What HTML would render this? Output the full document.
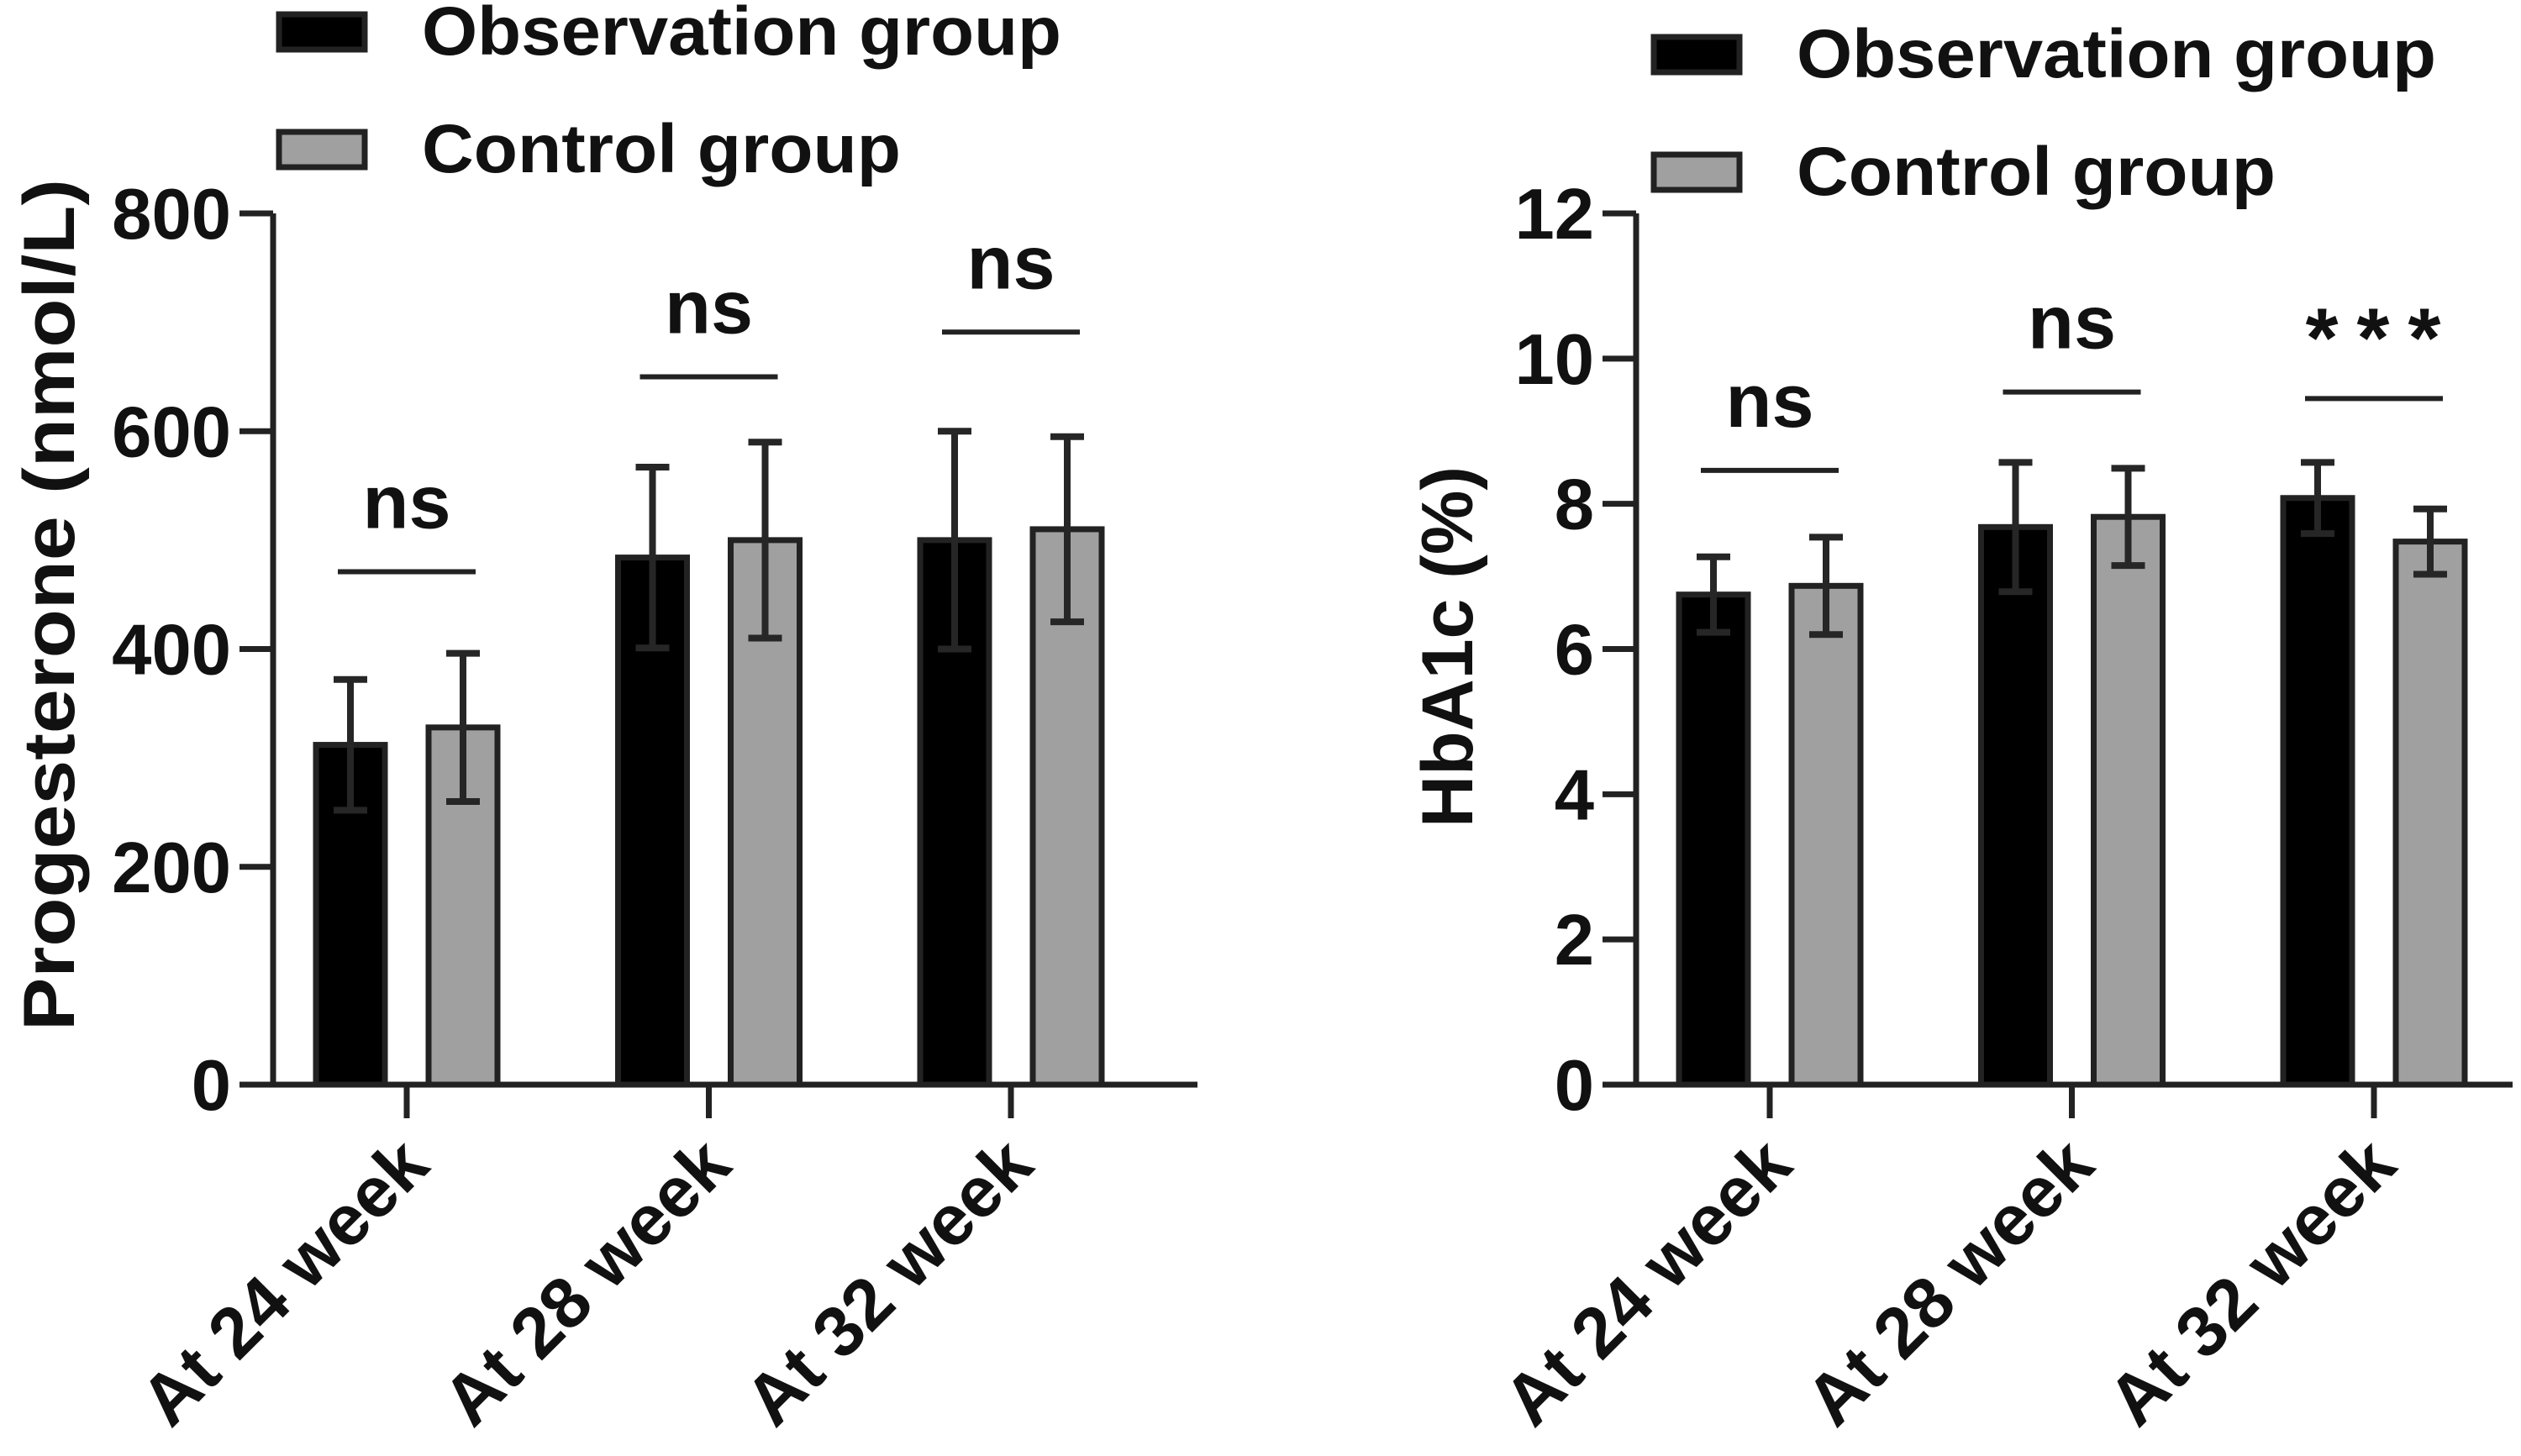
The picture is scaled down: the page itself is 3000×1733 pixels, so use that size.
<!DOCTYPE html>
<html><head><meta charset="utf-8"><style>html,body{margin:0;padding:0;background:#fff}svg{display:block}</style></head>
<body>
<svg id="svg" xmlns="http://www.w3.org/2000/svg" width="3000" height="1733" viewBox="0 0 3000 1733" font-family="Liberation Sans, Arial, sans-serif" font-weight="bold"></svg>
<script>
const categories = ["At 24 week", "At 28 week", "At 32 week"];
const progObs = [312, 484, 500];
const progObsSD = [60, 83, 100];
const progCtrl = [328, 500, 510];
const progCtrlSD = [68, 90, 85];
const progTicks = [0, 200, 400, 600, 800];
const progSig = ["ns", "ns", "ns"];
const progSigY = [471, 650, 691];
const hbObs = [6.75, 7.68, 8.08];
const hbObsSD = [0.52, 0.89, 0.49];
const hbCtrl = [6.87, 7.82, 7.48];
const hbCtrlSD = [0.67, 0.67, 0.45];
const hbTicks = [0, 2, 4, 6, 8, 10, 12];
const hbSig = ["ns", "ns", "***"];
const hbSigY = [8.46, 9.54, 9.45];

const NS = "http://www.w3.org/2000/svg";
const svg = document.getElementById('svg');
function mk(tag, attrs, parent) {
  const e = document.createElementNS(NS, tag);
  for (const k in attrs) e.setAttribute(k, attrs[k]);
  (parent || svg).appendChild(e);
  return e;
}

function drawPanel(cfg) {
  const g = mk('g', {});
  
  
  const y = v => cfg.y0 - (v - cfg.min) / (cfg.max - cfg.min) * (cfg.y0 - cfg.yTop);
  const cx = i => cfg.cat0 + i * cfg.catStep;
  for (let i = 0; i < categories.length; i++) {
    const series = [[cfg.obs, cfg.obsSD, '#000', 'obs'], [cfg.ctrl, cfg.ctrlSD, '#a0a0a0', 'ctrl']];
    series.forEach((s, j) => {
      const bx = cx(i) + (j === 0 ? -cfg.off - cfg.bw / 2 : cfg.off - cfg.bw / 2);
      const v = s[0][i], sd = s[1][i];
      const r = mk('rect', {x: bx, y: y(v), width: cfg.bw, height: cfg.y0 - y(v), fill: s[2], stroke: '#222', 'stroke-width': 7}, g);
      
      
      const mx = bx + cfg.bw / 2;
      const eb = mk('path', {d: `M${mx},${y(v - sd)}V${y(v + sd)}M${mx - 20},${y(v + sd)}H${mx + 20}M${mx - 20},${y(v - sd)}H${mx + 20}`, stroke: '#262626', 'stroke-width': 8, fill: 'none'}, g);
      
      
    });
    const sy = y(cfg.sigY[i]);
    const sl = mk('line', {x1: cx(i) - 82, x2: cx(i) + 82, y1: sy, y2: sy, stroke: '#222', 'stroke-width': 6}, g);
    
    
    const isStar = cfg.sig[i] === '***';
    const st = mk('text', {x: cx(i) + (isStar ? 10 : 0), y: sy - (isStar ? 38 : 52), 'text-anchor': 'middle', 'font-size': isStar ? 100 : 90, 'letter-spacing': isStar ? 22 : 0, fill: '#111'}, g);
    st.textContent = cfg.sig[i];
    
    
    const ct = mk('line', {x1: cx(i), x2: cx(i), y1: cfg.y0, y2: cfg.y0 + 40, stroke: '#222', 'stroke-width': 7}, g);
    
    
    const tl = mk('text', {x: 0, y: 0, 'text-anchor': 'end', 'font-size': 85, fill: '#111', transform: `translate(${cx(i) + 30},${cfg.y0 + 100}) rotate(-45)`}, g);
    tl.textContent = categories[i];
    
    
  }
  const ya = mk('line', {x1: cfg.ax, x2: cfg.ax, y1: cfg.yTop, y2: cfg.y0, stroke: '#222', 'stroke-width': 7}, g);
  
  
  const xa = mk('line', {x1: cfg.ax - 40, x2: cfg.xEnd, y1: cfg.y0, y2: cfg.y0, stroke: '#222', 'stroke-width': 7}, g);
  
  
  cfg.ticks.forEach(t => {
    const tk = mk('line', {x1: cfg.ax - 40, x2: cfg.ax, y1: y(t), y2: y(t), stroke: '#222', 'stroke-width': 7}, g);
    
    
    const tt = mk('text', {x: cfg.ax - 50, y: y(t) + 30, 'text-anchor': 'end', 'font-size': 85, fill: '#111'}, g);
    tt.textContent = t;
    
    
  });
  const title = mk('text', {x: 0, y: 0, 'text-anchor': 'middle', 'font-size': 86, fill: '#111', textLength: cfg.titleLen, lengthAdjust: 'spacingAndGlyphs', transform: `translate(${cfg.titleX},${cfg.titleY}) rotate(-90)`}, g);
  title.textContent = cfg.title;
  
  
  [['Observation group', '#000', cfg.legY, 761], ['Control group', '#a0a0a0', cfg.legY + 140, 570]].forEach((L, k) => {
    const sw = mk('rect', {x: cfg.legX, y: L[2], width: 102, height: 42, fill: L[1], stroke: '#222', 'stroke-width': 7}, g);
    
    
    const lt = mk('text', {x: cfg.legX + 170, y: L[2] + 48, 'font-size': 82, fill: '#111', textLength: L[3], lengthAdjust: 'spacingAndGlyphs'}, g);
    lt.textContent = L[0];
    
    
  });
}

drawPanel({name: 'progesterone-panel', obs: progObs, obsSD: progObsSD, ctrl: progCtrl, ctrlSD: progCtrlSD,
  ticks: progTicks, sig: progSig, sigY: progSigY, min: 0, max: 800, y0: 1291, yTop: 254, ax: 325, xEnd: 1425,
  cat0: 484, catStep: 359.5, off: 67, bw: 82, title: 'Progesterone (nmol/L)', titleX: 88, titleY: 720, titleLen: 1014,
  legX: 332, legY: 17});
drawPanel({name: 'hba1c-panel', obs: hbObs, obsSD: hbObsSD, ctrl: hbCtrl, ctrlSD: hbCtrlSD,
  ticks: hbTicks, sig: hbSig, sigY: hbSigY, min: 0, max: 12, y0: 1291, yTop: 254, ax: 1947, xEnd: 2990,
  cat0: 2106, catStep: 359.5, off: 67, bw: 82, title: 'HbA1c (%)', titleX: 1752, titleY: 770, titleLen: 430,
  legX: 1968, legY: 44});
</script>
</body></html>
